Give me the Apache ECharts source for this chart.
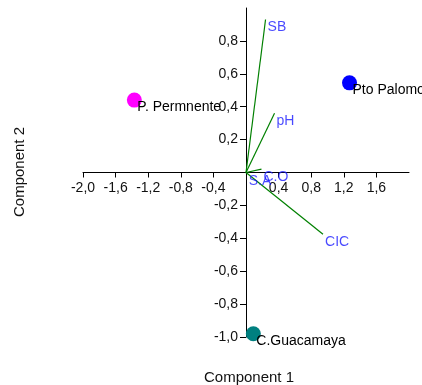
<!DOCTYPE html>
<html>
<head>
<meta charset="utf-8">
<script src="https://cdn.jsdelivr.net/npm/echarts@6/dist/echarts.min.js"></script>
<style>
html,body{margin:0;padding:0;background:#fff;}
#chart{width:422px;height:385px;}
</style>
</head>
<body>
<div id="chart"></div>
<script>
// Sites (scores)
const siteNames = ["P. Permnente", "Pto Palomo", "C.Guacamaya"];
const siteX = [-1.37, 1.27, 0.09];
const siteY = [0.44, 0.545, -0.98];
const siteColors = ["#ff00ff", "#0000ff", "#008080"];

// Variables (loadings)
const varNames = ["SB", "pH", "C.O", "S.A", "CIC"];
const varX = [0.24, 0.35, 0.19, 0.01, 0.945];
const varY = [0.93, 0.36, 0.02, -0.005, -0.375];

// Tick positions and labelled ticks
const xTicks = [-2.0, -1.6, -1.2, -0.8, -0.4, 0, 0.4, 0.8, 1.2, 1.6];
const xTickLabels = [-2.0, -1.6, -1.2, -0.8, -0.4, 0.4, 0.8, 1.2, 1.6];
const yTicks = [-1.0, -0.8, -0.6, -0.4, -0.2, 0, 0.2, 0.4, 0.6, 0.8];
const yTickLabels = [-1.0, -0.8, -0.6, -0.4, -0.2, 0.2, 0.4, 0.6, 0.8];

const xTitle = "Component 1";
const yTitle = "Component 2";

const FONT = "'Liberation Sans', Arial, sans-serif";

const GRID = {left: 83, width: 326, top: 8, height: 329};
const X_MIN = -2, X_MAX = 2, Y_MIN = -1, Y_MAX = 1;
// place each axis through the origin of the other
const xAxisOffset = -GRID.height * (0 - Y_MIN) / (Y_MAX - Y_MIN);
const yAxisOffset = -GRID.width * (0 - X_MIN) / (X_MAX - X_MIN);

const chart = echarts.init(document.getElementById('chart'), null, {renderer: 'canvas'});

function fmt(v) { return Number(v).toFixed(1).replace('.', ','); }

const series = [];
varNames.forEach(function (n, i) {
  series.push({
    type: 'line',
    data: [[0, 0], [varX[i], varY[i]]],
    showSymbol: false,
    symbol: 'none',
    lineStyle: {color: '#008000', width: 1.2},
    silent: true,
    z: 2
  });
});
series.push({
  type: 'scatter',
  data: varNames.map(function (n, i) { return {name: n, value: [varX[i], varY[i]]}; }),
  symbolSize: 0,
  itemStyle: {color: 'rgba(0,0,0,0)'},
  label: {
    show: true, position: 'right', distance: 2, offset: [0, 8],
    formatter: '{b}', color: '#1a1aff', fontSize: 14, fontFamily: FONT
  },
  z: 3
});
series.push({
  type: 'scatter',
  data: siteNames.map(function (n, i) {
    return {name: n, value: [siteX[i], siteY[i]], itemStyle: {color: siteColors[i], opacity: 1}};
  }),
  symbolSize: 15,
  itemStyle: {opacity: 1},
  label: {
    show: true, position: 'right', distance: -4.5, offset: [0, 7.5],
    formatter: '{b}', color: '#000', fontSize: 14, fontFamily: FONT
  },
  z: 4
});

chart.setOption({
  animation: false,
  backgroundColor: '#fff',
  grid: {left: GRID.left, width: GRID.width, top: GRID.top, height: GRID.height, containLabel: false},
  xAxis: {
    type: 'value', min: X_MIN, max: X_MAX, interval: 0.4,
    offset: xAxisOffset,
    axisLine: {show: true, onZero: false, lineStyle: {color: '#000', width: 1}},
    axisTick: {show: true, length: 5, customValues: xTicks, lineStyle: {color: '#000'}},
    splitLine: {show: false},
    axisLabel: {customValues: xTickLabels, formatter: fmt, color: '#111', fontSize: 14, fontFamily: FONT, margin: 9}
  },
  yAxis: {
    type: 'value', min: Y_MIN, max: Y_MAX, interval: 0.2,
    offset: yAxisOffset,
    axisLine: {show: true, onZero: false, lineStyle: {color: '#000', width: 1}},
    axisTick: {show: true, length: 6, customValues: yTicks, lineStyle: {color: '#000'}},
    splitLine: {show: false},
    axisLabel: {customValues: yTickLabels, formatter: fmt, color: '#111', fontSize: 14, fontFamily: FONT, margin: 8}
  },
  graphic: [
    {type: 'text', x: 249, y: 378, style: {text: xTitle, fill: '#111', font: '15px ' + FONT, textAlign: 'center', textVerticalAlign: 'middle'}},
    {type: 'text', rotation: Math.PI / 2, x: 20, y: 172, style: {text: yTitle, fill: '#111', font: '15px ' + FONT, textAlign: 'center', textVerticalAlign: 'middle'}}
  ],
  series: series
});
</script>
</body>
</html>
